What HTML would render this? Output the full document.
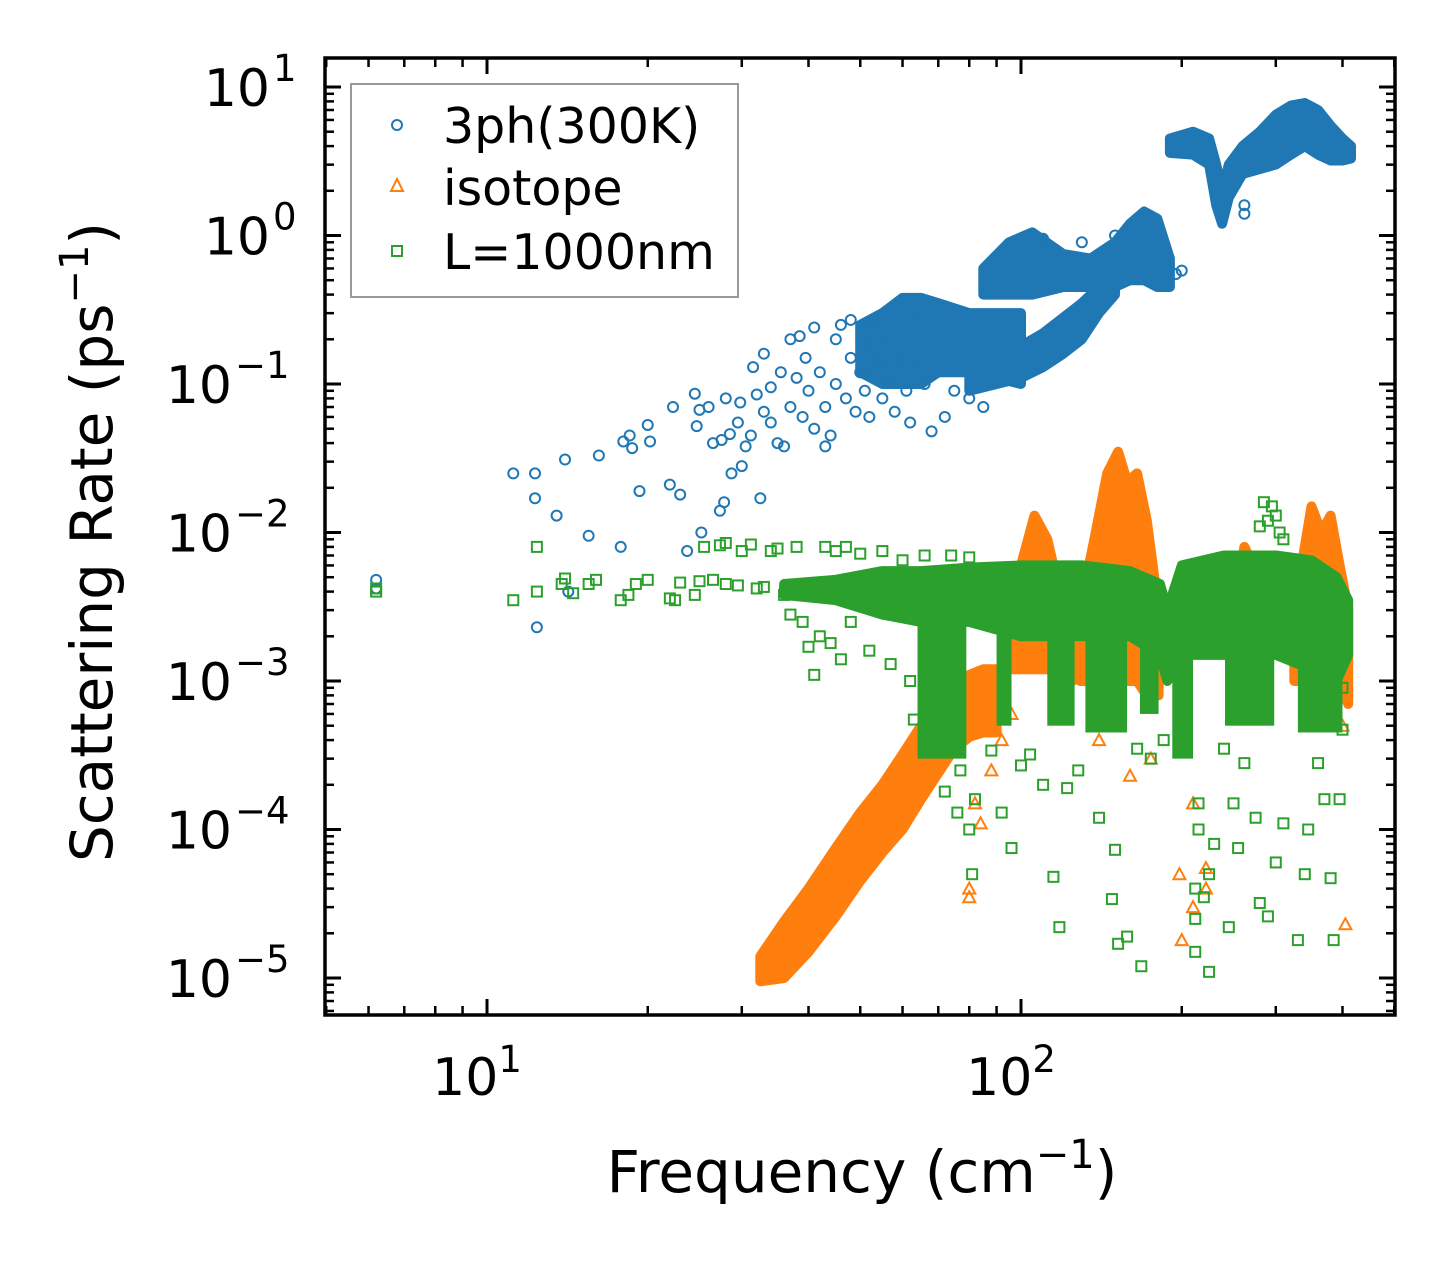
<!DOCTYPE html>
<html><head><meta charset="utf-8"><style>
html,body{margin:0;padding:0;background:#fff;}
svg{display:block;font-family:"DejaVu Sans","Liberation Sans",sans-serif;}
</style></head><body>
<svg id="chart" width="1455" height="1265" viewBox="0 0 1455 1265" xmlns="http://www.w3.org/2000/svg">
<rect x="0" y="0" width="1455" height="1265" fill="#fff"/>
<g id="plot"></g>
<g id="axes"></g>
<text x="862" y="1192" font-size="58" text-anchor="middle">Frequency (cm<tspan dy="-24" font-size="40">−1</tspan><tspan dy="24">)</tspan></text>
<text transform="translate(112,542) rotate(-90)" font-size="58" text-anchor="middle">Scattering Rate (ps<tspan dy="-24" font-size="40">−1</tspan><tspan dy="24">)</tspan></text>
<g>
<rect x="351" y="84" width="387" height="213" fill="#fff" stroke="#999" stroke-width="2"/>
<circle cx="397" cy="125" r="5" fill="none" stroke="#1f77b4" stroke-width="2"/>
<text x="443" y="143" font-size="49">3ph(300K)</text>
<path d="M397,179 L403,191 L391,191 Z" fill="none" stroke="#ff7f0e" stroke-width="2"/>
<text x="443" y="205" font-size="49">isotope</text>
<rect x="392" y="246" width="10" height="10" fill="none" stroke="#2ca02c" stroke-width="2"/>
<text x="443" y="269" font-size="49">L=1000nm</text>
</g>
</svg>
<script>
// ---- data ----
const xTickVals=[10,100];
const yTickExps=[1,0,-1,-2,-3,-4,-5];
// blue (3ph) dense regions: freq, upper, lower
const blueAF=[50,55,60,65,70,80,90,100];
const blueAH=[0.25,0.3,0.38,0.38,0.35,0.3,0.3,0.3];
const blueAL=[0.12,0.1,0.1,0.1,0.12,0.12,0.11,0.1];
const blueBF=[85,95,105,120,135,150,160,170,180,190];
const blueBH=[0.6,0.9,1.05,0.75,0.7,0.9,1.2,1.45,1.3,0.7];
const blueBL=[0.4,0.4,0.4,0.45,0.45,0.45,0.5,0.5,0.45,0.45];
const blueCF=[80,90,100,110,120,130,140,150];
const blueCH=[0.14,0.15,0.18,0.22,0.28,0.35,0.45,0.5];
const blueCL=[0.09,0.1,0.11,0.13,0.16,0.2,0.3,0.4];
const blueDF=[190,210,225,232,238,245,260,280,300,320,340,360,380,400,415];
const blueDH=[4.5,5,4.5,3,2,3,4,5,6.5,7.5,7.8,7,5.5,4.5,4];
const blueDL=[3.6,3.5,3,1.6,1.2,1.8,2.6,2.8,3,3.5,4,3.5,3.2,3.2,3.3];
// blue scattered points
const blueF=[6.2,6.2,11.2,12.3,12.3,12.4,13.5,14,14.2,15.5,16.2,17.8,18,18.5,18.7,19.3,20,20.2,22,22.3,23,23.7,24.5,24.7,25,25.2,26,26.5,27.3,27.5,27.8,28,28.5,28.7,29.5,29.8,30,30.5,31.2,31.5,32,32.5,33,33,34,34,35,35.5,36,37,37,38,38.5,39,39.5,40,41,41,42,43,43,44,45,45,46,47,48,48,49,50,51,52,52,53,54,55,56,57,58,59,61,62,63,64,66,68,72,75,80,85,110,130,150,195,200,262,262];
const blueR=[4.8e-3,4.2e-3,0.025,0.025,0.017,2.3e-3,0.013,0.031,4e-3,0.0095,0.033,0.008,0.041,0.045,0.037,0.019,0.053,0.041,0.021,0.07,0.018,0.0075,0.086,0.052,0.067,0.01,0.07,0.04,0.014,0.042,0.016,0.08,0.046,0.025,0.055,0.075,0.028,0.038,0.045,0.13,0.085,0.017,0.065,0.16,0.055,0.095,0.04,0.12,0.038,0.07,0.2,0.11,0.21,0.06,0.15,0.09,0.05,0.24,0.12,0.07,0.038,0.045,0.1,0.2,0.25,0.08,0.15,0.27,0.065,0.12,0.09,0.18,0.06,0.25,0.14,0.08,0.2,0.11,0.065,0.15,0.09,0.055,0.13,0.3,0.1,0.048,0.06,0.09,0.08,0.07,0.95,0.9,1.0,0.55,0.58,1.4,1.6];
// orange (isotope) dense regions
const orDF=[32.5,36,40,45,50,55,60,65,70,75,80,85,90];
const orDH=[1.4e-5,2.4e-5,4e-5,7.5e-5,1.3e-4,2e-4,3.2e-4,5e-4,7e-4,9e-4,1.1e-3,1.2e-3,1.2e-3];
const orDL=[9.5e-6,1e-5,1.5e-5,2.6e-5,4.5e-5,7e-5,1e-4,1.6e-4,2.4e-4,3.5e-4,4.2e-4,4.5e-4,4.5e-4];
const orAF=[95,100,106,112,118,125];
const orAH=[2e-3,6e-3,1.3e-2,9e-3,4e-3,1.5e-3];
const orAL=[1.2e-3,1.2e-3,1.2e-3,1.2e-3,1.2e-3,1e-3];
const orBF=[129,138,145,152,158,165,172,181];
const orBH=[3e-3,1e-2,2.5e-2,3.5e-2,2.2e-2,2.5e-2,1.2e-2,3e-3];
const orBL=[1e-3,1e-3,1e-3,1e-3,1e-3,1e-3,8e-4,8e-4];
const orCF=[250,262,272,285];
const orCH=[3e-3,8e-3,6e-3,3e-3];
const orCL=[1.5e-3,1.5e-3,1.5e-3,1.5e-3];
const orEF=[325,340,350,365,380,395,410];
const orEH=[3e-3,8e-3,1.5e-2,1e-2,1.3e-2,6e-3,3e-3];
const orEL=[1e-3,1e-3,1e-3,1e-3,1e-3,1e-3,7e-4];
const orF=[80,80,82,84,88,92,140,160,175,198,200,210,210,222,222,400,400,405,140,150,96];
const orR=[3.5e-5,4e-5,1.5e-4,1.1e-4,2.5e-4,4e-4,4e-4,2.3e-4,3e-4,5e-5,1.8e-5,3e-5,1.5e-4,5.5e-5,4e-5,5e-4,8e-4,2.3e-5,6e-4,5e-4,6e-4];
// green (L=1000nm) dense band + hanging columns
const grF=[36,45,55,65,80,100,130,160,182,188,200,240,300,350,390,410];
const grH=[4.5e-3,4.8e-3,5.5e-3,5.5e-3,5.8e-3,6e-3,6e-3,5.5e-3,4.5e-3,3e-3,6e-3,7e-3,7e-3,6.5e-3,5e-3,3.5e-3];
const grL=[3.8e-3,3.5e-3,2.8e-3,2.5e-3,2.5e-3,2e-3,2e-3,2e-3,1.5e-3,1e-3,1.5e-3,1.5e-3,1.5e-3,1.2e-3,1e-3,1.5e-3];
const colLeft=[64,90,112,132,167,192,241,330];
const colRight=[79,96,126,158,181,210,298,400];
const colBottom=[3e-4,5e-4,5e-4,4.5e-4,6e-4,3e-4,5e-4,4.5e-4];
const colTop=[2.5e-3,2.5e-3,2.5e-3,2.5e-3,2.5e-3,2e-3,2e-3,2e-3];
const grPF=[6.2,6.2,11.2,12.4,12.4,13.8,14,14.5,15.5,16,17.8,18.4,19,20,22,22.5,23,24.5,25,25.5,26.5,27.3,28,28,29.5,30,31.2,32,33,34,35,36,37,38,39,40,41,42,43,44,45,46,47,48,50,52,55,57,60,62,63,66,68,72,74,76,77,80,80,81,82,88,92,96,100,104,110,115,118,122,128,140,148,150,152,158,165,168,175,185,200,215,215,220,225,225,230,240,245,250,255,262,275,280,290,300,310,330,340,345,360,370,380,385,395,400,400,285,295,300,290,305,310,280,212,212,212];
const grPR=[4.2e-3,4e-3,3.5e-3,8e-3,4e-3,4.5e-3,4.9e-3,3.9e-3,4.5e-3,4.8e-3,3.5e-3,3.8e-3,4.5e-3,4.8e-3,3.6e-3,3.5e-3,4.6e-3,3.8e-3,4.7e-3,8e-3,4.8e-3,8.2e-3,8.5e-3,4.5e-3,4.4e-3,7.5e-3,8.3e-3,4.2e-3,4.3e-3,7.5e-3,7.8e-3,3.8e-3,2.8e-3,8e-3,2.5e-3,1.7e-3,1.1e-3,2e-3,8e-3,1.8e-3,7.5e-3,1.4e-3,8e-3,2.5e-3,7.2e-3,1.6e-3,7.5e-3,1.3e-3,6.5e-3,1e-3,5.5e-4,7e-3,3.3e-4,1.8e-4,7e-3,1.3e-4,2.5e-4,6.8e-3,1e-4,5e-5,1.6e-4,3.4e-4,1.3e-4,7.5e-5,2.7e-4,3.2e-4,2e-4,4.8e-5,2.2e-5,1.9e-4,2.5e-4,1.2e-4,3.4e-5,7.3e-5,1.7e-5,1.9e-5,3.5e-4,1.2e-5,3e-4,4e-4,5e-4,1.5e-4,1e-4,3.5e-5,1.1e-5,5e-5,8e-5,3.5e-4,2.2e-5,1.5e-4,7.5e-5,2.8e-4,1.2e-4,3.2e-5,2.6e-5,6e-5,1.1e-4,1.8e-5,5e-5,1e-4,2.8e-4,1.6e-4,4.7e-5,1.8e-5,1.6e-4,9e-4,4.7e-4,1.6e-2,1.5e-2,1.3e-2,1.2e-2,1e-2,9e-3,1.1e-2,1.5e-5,2.5e-5,4e-5];

// ---- axes ----
const L=325,R=1395,T=58,B=1015;
const X10=487,DX=534,Y1=87,DY=148.5;
function xs(f){return X10+(Math.log10(f)-1)*DX;}
function ys(r){return Y1-(Math.log10(r)-1)*DY;}
const NS="http://www.w3.org/2000/svg";
const plot=document.getElementById('plot');
const axes=document.getElementById('axes');
function mk(tag,attrs,parent){const e=document.createElementNS(NS,tag);for(const k in attrs)e.setAttribute(k,attrs[k]);parent.appendChild(e);return e;}

const clip=mk('clipPath',{id:'cp'},document.getElementById('chart'));
mk('rect',{x:L,y:T,width:R-L,height:B-T},clip);
plot.setAttribute('clip-path','url(#cp)');

function band(F,H,Lo,color,name){
  let pts=[];
  for(let i=0;i<F.length;i++)pts.push(xs(F[i]).toFixed(1)+','+ys(H[i]).toFixed(1));
  for(let i=F.length-1;i>=0;i--)pts.push(xs(F[i]).toFixed(1)+','+ys(Lo[i]).toFixed(1));
  const p=mk('polygon',{points:pts.join(' '),fill:color,stroke:color,'stroke-width':10,'stroke-linejoin':'round'},plot);
  
  
}
function circles(F,Rr,name){for(let i=0;i<F.length;i++){const c=mk('circle',{cx:xs(F[i]),cy:ys(Rr[i]),r:5,fill:'none',stroke:'#1f77b4','stroke-width':2},plot);
  
  }}
function tris(F,Rr,name){for(let i=0;i<F.length;i++){const x=xs(F[i]),y=ys(Rr[i]);const t=mk('path',{d:`M${x},${y-6} L${x+6},${y+5} L${x-6},${y+5} Z`,fill:'none',stroke:'#ff7f0e','stroke-width':2},plot);
  
  }}
function squares(F,Rr,name){for(let i=0;i<F.length;i++){const s=mk('rect',{x:xs(F[i])-5,y:ys(Rr[i])-5,width:10,height:10,fill:'none',stroke:'#2ca02c','stroke-width':2},plot);
  
  }}

band(blueAF,blueAH,blueAL,'#1f77b4','blue-cluster-a');
band(blueBF,blueBH,blueBL,'#1f77b4','blue-cluster-b');
band(blueCF,blueCH,blueCL,'#1f77b4','blue-cluster-c');
band(blueDF,blueDH,blueDL,'#1f77b4','blue-cluster-d');
circles(blueF,blueR,'point-3ph');
band(orDF,orDH,orDL,'#ff7f0e','orange-diagonal-band');
band(orAF,orAH,orAL,'#ff7f0e','orange-peak-a');
band(orBF,orBH,orBL,'#ff7f0e','orange-peak-b');
band(orCF,orCH,orCL,'#ff7f0e','orange-peak-c');
band(orEF,orEH,orEL,'#ff7f0e','orange-peak-d');
tris(orF,orR,'point-isotope');
band(grF,grH,grL,'#2ca02c','green-main-band');
for(let i=0;i<colLeft.length;i++){
  const c=mk('rect',{x:xs(colLeft[i]),y:ys(colTop[i]),width:xs(colRight[i])-xs(colLeft[i]),height:ys(colBottom[i])-ys(colTop[i]),fill:'#2ca02c'},plot);
  
  
}
squares(grPF,grPR,'point-l1000');

const fr=mk('rect',{x:L,y:T,width:R-L,height:B-T,fill:'none',stroke:'#000','stroke-width':3.5},axes);



for(let d=0;d<3;d++){
  const base=Math.pow(10,d);
  for(let m=1;m<10;m++){
    const v=base*m; if(v<5||v>500)continue;
    const x=xs(v); if(x<L||x>R)continue;
    const major=(m===1); const len=major?16:9;
    const t1=mk('line',{x1:x,x2:x,y1:B,y2:B-len,stroke:'#000','stroke-width':major?3:2.5},axes);
    
    
    const t2=mk('line',{x1:x,x2:x,y1:T,y2:T+len,stroke:'#000','stroke-width':major?3:2.5},axes);
    
    
  }
}
xTickVals.forEach(v=>{
  const e=Math.round(Math.log10(v));
  const t=mk('text',{x:xs(v)-10,y:1095,'font-size':52,'text-anchor':'middle'},axes);
  t.innerHTML='10<tspan dy="-23" font-size="37">'+e+'</tspan>';
  
  
});
for(let e=-6;e<=1;e++){
  for(let m=1;m<10;m++){
    const v=m*Math.pow(10,e);
    const y=ys(v); if(y<T||y>B)continue;
    const major=(m===1); const len=major?16:9;
    const t1=mk('line',{x1:L,x2:L+len,y1:y,y2:y,stroke:'#000','stroke-width':major?3:2.5},axes);
    
    
    const t2=mk('line',{x1:R,x2:R-len,y1:y,y2:y,stroke:'#000','stroke-width':major?3:2.5},axes);
    
    
  }
}
yTickExps.forEach(e=>{
  const y=ys(Math.pow(10,e));
  const t=mk('text',{x:270,y:y+19,'font-size':52,'text-anchor':'end'},axes);
  t.textContent='10';
  const s=mk('text',{x:273,y:y-6,'font-size':37,'text-anchor':'start'},axes);
  s.textContent=(e<0?'−':'')+Math.abs(e);
  if(e<0){t.setAttribute('x',232);s.setAttribute('x',235);}
  
  
  
  
});
</script>
</body></html>
